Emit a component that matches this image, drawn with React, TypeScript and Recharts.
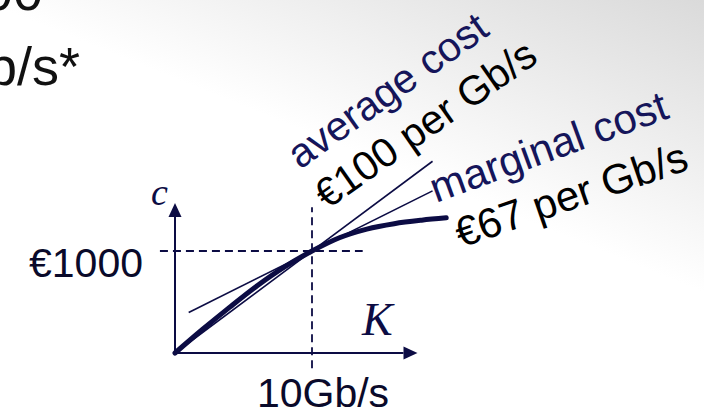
import { LineChart, Line, XAxis, YAxis, ReferenceLine } from 'recharts';

// capacity K in Gb/s and total cost c in €
const capacity = [0, 2, 4, 6, 8, 10, 12, 14, 16, 18, 19.8];
const totalCost = [0, 230, 450, 660, 845, 1000, 1130, 1215, 1268, 1302, 1325];

const refCapacity = 10;
const refCost = 1000;
const averageCost = 100; // € per Gb/s
const marginalCost = 67; // € per Gb/s
const averageRange = [0, 18.8];
const marginalRange = [1, 18.8];

const xTicks = [refCapacity];
const yTicks = [refCost];

const NAVY = '#0c0c44';
const SANS = '"Liberation Sans", Arial, sans-serif';
const SERIF = '"Liberation Serif", "Times New Roman", serif';

const curveData = capacity.map((k, i) => ({ k, c: totalCost[i] }));
const averageData = averageRange.map((k) => ({ k, c: averageCost * k }));
const marginalData = marginalRange.map((k) => ({ k, c: refCost + marginalCost * (k - refCapacity) }));

// axis line with a filled arrowhead at its far end
const ArrowLine = (props: any) => {
    const { x1, y1, x2, y2 } = props;
    const dx = x2 - x1;
    const dy = y2 - y1;
    const len = Math.sqrt(dx * dx + dy * dy) || 1;
    const ux = dx / len;
    const uy = dy / len;
    const head = 14;
    const half = 6.5;
    const bx = x2 - ux * head;
    const by = y2 - uy * head;
    const pts = `${x2},${y2} ${bx - uy * half},${by + ux * half} ${bx + uy * half},${by - ux * half}`;
    return (
        <g>
            <line x1={x1} y1={y1} x2={bx} y2={by} stroke={NAVY} strokeWidth={2} />
            <polygon points={pts} fill={NAVY} />
        </g>
    );
};

const CostTick = (props: any) => {
    const { x, y, payload } = props;
    return (
        <text x={x - 32} y={y + 26} textAnchor="end" fontFamily={SANS} fontSize={41} fill="#0a0a2a">
            €{payload.value}
        </text>
    );
};

const CapacityTick = (props: any) => {
    const { x, y, payload } = props;
    return (
        <text x={x + 11} y={y + 54} textAnchor="middle" fontFamily={SANS} fontSize={41} fill="#0a0a2a">
            {payload.value}Gb/s
        </text>
    );
};

export default function App() {
    return (
        <div
            style={{
                position: 'absolute',
                left: 0,
                top: 0,
                width: 704,
                height: 412,
                overflow: 'hidden',
                background: 'linear-gradient(22deg, #ffffff 58%, #dadada 100%)',
            }}
        >
            <LineChart width={704} height={412} margin={{ top: 149, right: 255, bottom: 0, left: 0 }}>
                <XAxis
                    type="number"
                    dataKey="k"
                    domain={[0, 20]}
                    ticks={xTicks}
                    height={59}
                    axisLine={false}
                    tickLine={false}
                    tickSize={0}
                    tickMargin={0}
                    tick={CapacityTick}
                />
                <YAxis
                    type="number"
                    dataKey="c"
                    domain={[0, 2000]}
                    ticks={yTicks}
                    width={175}
                    axisLine={false}
                    tickLine={false}
                    tickSize={0}
                    tickMargin={0}
                    tick={CostTick}
                />

                {/* guides at the reference point */}
                <ReferenceLine
                    segment={[{ x: refCapacity, y: -150 }, { x: refCapacity, y: 1430 }]}
                    stroke={NAVY}
                    strokeWidth={1.8}
                    strokeDasharray="8 5"
                    ifOverflow="visible"
                />
                <ReferenceLine
                    segment={[{ x: -1.1, y: refCost }, { x: 13.7, y: refCost }]}
                    stroke={NAVY}
                    strokeWidth={1.8}
                    strokeDasharray="8 5"
                    ifOverflow="visible"
                />

                {/* axes */}
                <ReferenceLine segment={[{ x: 0, y: 0 }, { x: 17.7, y: 0 }]} ifOverflow="visible" shape={ArrowLine} />
                <ReferenceLine segment={[{ x: 0, y: 0 }, { x: 0, y: 1470 }]} ifOverflow="visible" shape={ArrowLine} />

                <Line data={averageData} dataKey="c" type="linear" stroke={NAVY} strokeWidth={1.6} dot={false} isAnimationActive={false} />
                <Line data={marginalData} dataKey="c" type="linear" stroke={NAVY} strokeWidth={1.6} dot={false} isAnimationActive={false} />
                <Line
                    data={curveData}
                    dataKey="c"
                    type="monotone"
                    stroke={NAVY}
                    strokeWidth={5}
                    strokeLinecap="round"
                    dot={false}
                    isAnimationActive={false}
                />

                <text x={151} y={205} fontFamily={SERIF} fontStyle="italic" fontSize={38} fill={NAVY}>c</text>
                <text x={362} y={335} fontFamily={SERIF} fontStyle="italic" fontSize={46} fill={NAVY}>K</text>

                <text x={300} y={170} transform="rotate(-35.5 300 170)" fontFamily={SANS} fontSize={41} fill="#15155a">
                    average cost
                </text>
                <text x={327} y={210} transform="rotate(-35 327 210)" fontFamily={SANS} fontSize={41} fill="#000">
                    €100 per Gb/s
                </text>
                <text x={436} y={203} transform="rotate(-20 436 203)" fontFamily={SANS} fontSize={42} fill="#15155a">
                    marginal cost
                </text>
                <text x={461} y={248} transform="rotate(-19 461 248)" fontFamily={SANS} fontSize={42} fill="#000">
                    €67 per Gb/s
                </text>

                <text x={43} y={10} textAnchor="end" fontFamily={SANS} fontSize={54} fill="#111">00</text>
                <text x={80} y={85} textAnchor="end" fontFamily={SANS} fontSize={54} fill="#111">b/s*</text>
            </LineChart>
        </div>
    );
}
